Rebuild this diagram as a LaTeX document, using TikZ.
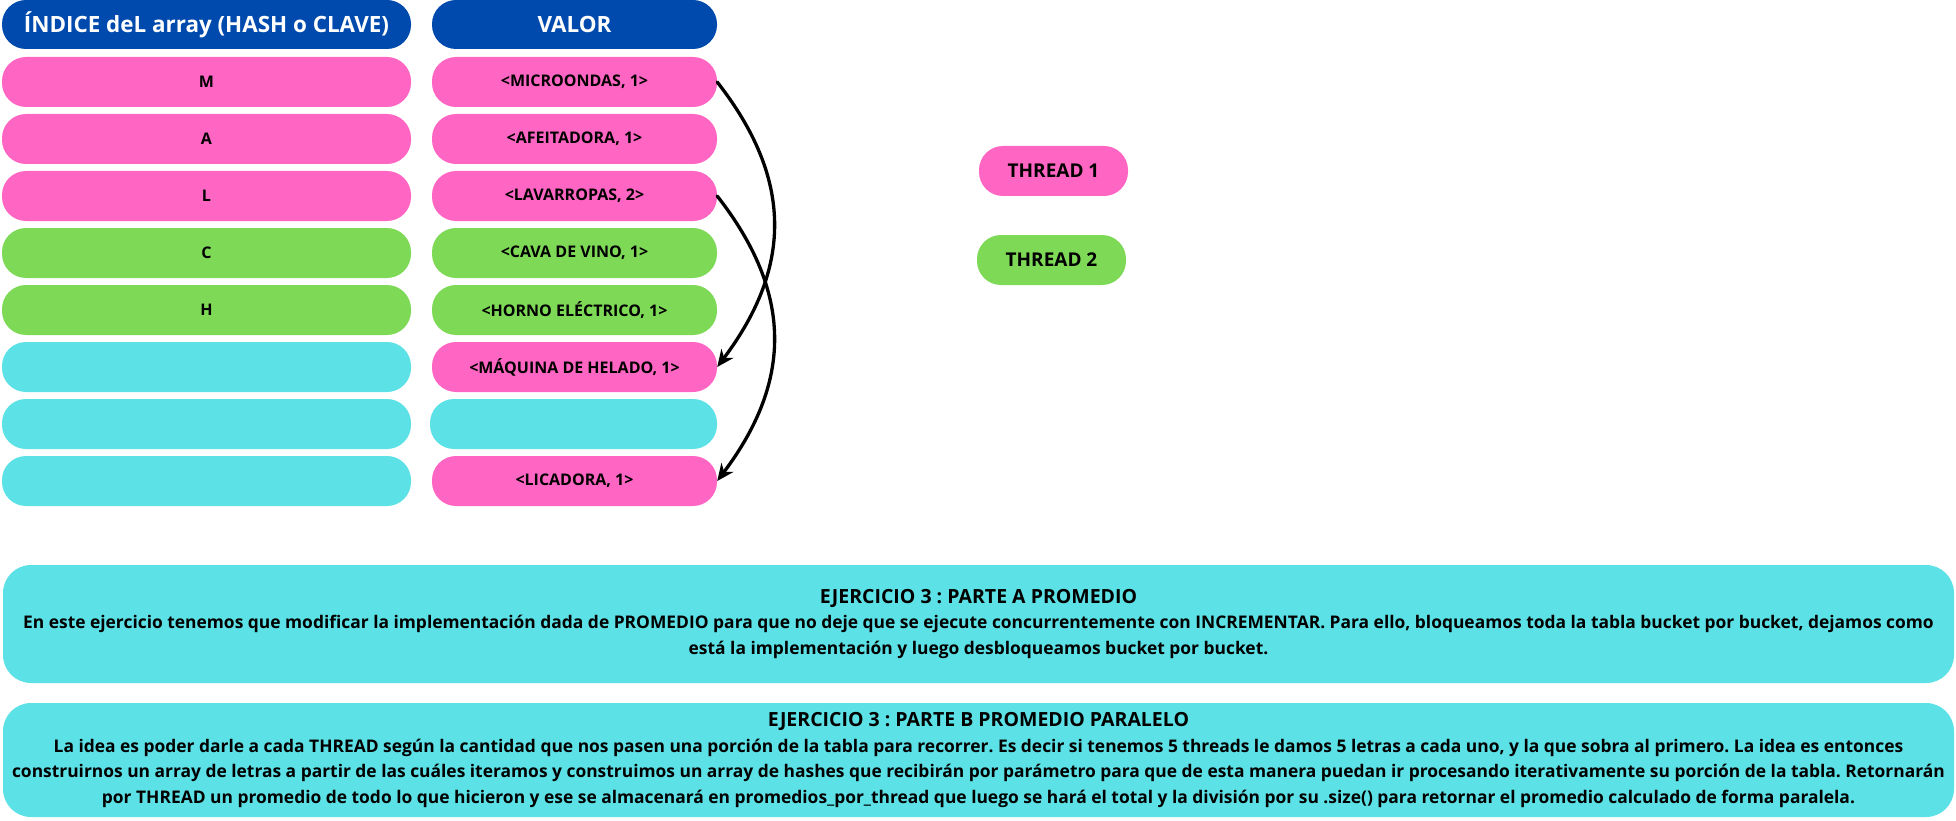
\documentclass[tikz,border=0pt]{standalone}
\usepackage{fontspec}
\setmainfont{Open Sans}
\usetikzlibrary{arrows.meta}
\definecolor{headblue}{HTML}{004AAD}
\definecolor{threadpink}{HTML}{FF66C4}
\definecolor{threadgreen}{HTML}{7ED957}
\definecolor{freecyan}{HTML}{5CE1E6}
\newcommand{\notetitle}[1]{{\fontsize{19.5}{26}\selectfont #1}}

\begin{document}
\frenchspacing
\begin{tikzpicture}[x=1pt, y=-1pt, >=Stealth,
  pill/.style={rounded corners=24pt, minimum height=50pt, inner sep=0pt,
    font=\fontsize{16}{18}\selectfont\bfseries},
  keycell/.style={pill, minimum width=409pt},
  valcell/.style={pill, minimum width=285pt},
  headcell/.style={pill, fill=headblue, text=white, minimum height=49pt,
    font=\fontsize{22.4}{24}\selectfont\bfseries},
  threadcell/.style={pill, minimum width=149pt, font=\fontsize{19}{20}\selectfont\bfseries},
  notebox/.style={rounded corners=28pt, fill=freecyan, minimum width=1951pt,
    inner sep=0pt, align=center, font=\fontsize{17.4}{25.5}\selectfont\bfseries},
  link/.style={-{Stealth[length=17pt, width=15pt]}, line width=3.3pt, line cap=round}]

  \useasboundingbox (0,0) rectangle (1956,821);

  % Column headers
  \node[headcell, minimum width=409pt] (headkey) at (206.5,24.5) {ÍNDICE deL array (HASH o CLAVE)};
  \node[headcell, minimum width=285pt] (headval) at (574.5,24.5) {VALOR};

  % Bucket index column
  \node[keycell, fill=threadpink]  (key1) at (206.5,82)  {M};
  \node[keycell, fill=threadpink]  (key2) at (206.5,139) {A};
  \node[keycell, fill=threadpink]  (key3) at (206.5,196) {L};
  \node[keycell, fill=threadgreen] (key4) at (206.5,253) {C};
  \node[keycell, fill=threadgreen] (key5) at (206.5,310) {H};
  \node[keycell, fill=freecyan]    (key6) at (206.5,367) {};
  \node[keycell, fill=freecyan]    (key7) at (206.5,424) {};
  \node[keycell, fill=freecyan]    (key8) at (206.5,481) {};

  % Value column
  \node[valcell, fill=threadpink]  (val1) at (574.5,82)  {<MICROONDAS, 1>};
  \node[valcell, fill=threadpink]  (val2) at (574.5,139) {<AFEITADORA, 1>};
  \node[valcell, fill=threadpink]  (val3) at (574.5,196) {<LAVARROPAS, 2>};
  \node[valcell, fill=threadgreen] (val4) at (574.5,253) {<CAVA DE VINO, 1>};
  \node[valcell, fill=threadgreen] (val5) at (574.5,310) {<HORNO ELÉCTRICO, 1>};
  \node[valcell, fill=threadpink]  (val6) at (574.5,367) {<MÁQUINA DE HELADO, 1>};
  \node[valcell, fill=freecyan, minimum width=287pt] (val7) at (573.5,424) {};
  \node[valcell, fill=threadpink]  (val8) at (574.5,481) {<LICADORA, 1>};

  % Chained entries in the same bucket
  \draw[link] (val1.east) .. controls +(75,96) and +(76,-101) .. (val6.east);
  \draw[link] (val3.east) .. controls +(75,96) and +(76,-101) .. (val8.east);

  % Legend
  \node[threadcell, fill=threadpink]  (thread1) at (1053.5,171) {THREAD 1};
  \node[threadcell, fill=threadgreen] (thread2) at (1051.5,260) {THREAD 2};

  % Explanations
  \node[notebox, minimum height=118pt] (partA) at (978.5,624) {\notetitle{EJERCICIO 3 : PARTE A PROMEDIO}\\
    En este ejercicio tenemos que modificar la implementación dada de PROMEDIO para que no deje que se ejecute concurrentemente con INCREMENTAR. Para ello, bloqueamos toda la tabla bucket por bucket, dejamos como\\
    está la implementación y luego desbloqueamos bucket por bucket.};
  \node[notebox, minimum height=114pt] (partB) at (978.5,760) {\notetitle{EJERCICIO 3 : PARTE B PROMEDIO PARALELO}\\
    La idea es poder darle a cada THREAD según la cantidad que nos pasen una porción de la tabla para recorrer. Es decir si tenemos 5 threads le damos 5 letras a cada uno, y la que sobra al primero. La idea es entonces\\
    construirnos un array de letras a partir de las cuáles iteramos y construimos un array de hashes que recibirán por parámetro para que de esta manera puedan ir procesando iterativamente su porción de la tabla. Retornarán\\
    por THREAD un promedio de todo lo que hicieron y ese se almacenará en promedios\_por\_thread que luego se hará el total y la división por su .size() para retornar el promedio calculado de forma paralela.};

\end{tikzpicture}
\end{document}
